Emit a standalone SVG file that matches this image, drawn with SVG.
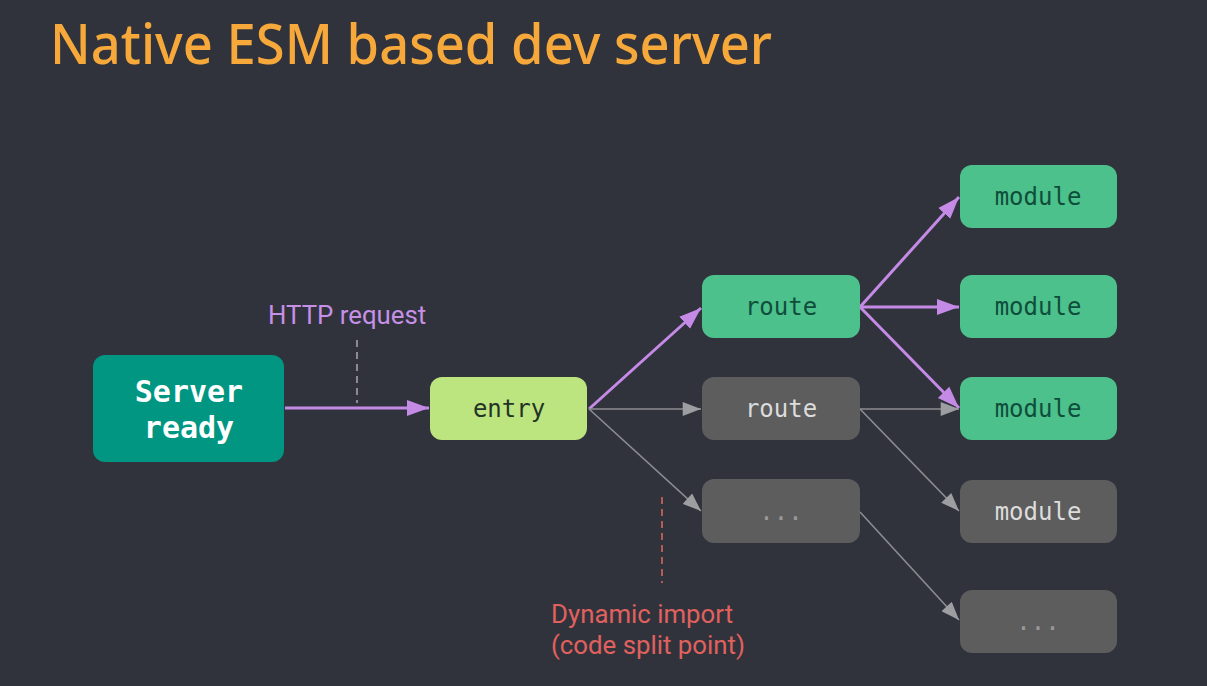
<svg xmlns="http://www.w3.org/2000/svg" width="1207" height="686" viewBox="0 0 1207 686">
<defs>
<style>
.node rect{rx:12;ry:12}
.green rect{fill:#4cc18b}
.green text{fill:#0f4d3b}
.grey rect{fill:#5d5d5e}
.grey text{fill:#dcdcdc}
.lbl{font-family:"DejaVu Sans Mono","Liberation Mono",monospace;font-size:24px;text-anchor:middle}
.dots{fill:#9a9a9a !important}
.p{stroke:#c58ae6;stroke-width:3;fill:none;marker-end:url(#ap)}
.g{stroke:#8c8d90;stroke-width:1.6;fill:none;marker-end:url(#ag)}
.note{font-family:Roboto,"Liberation Sans",sans-serif;font-size:25.8px}
</style>
<marker id="ap" markerUnits="userSpaceOnUse" markerWidth="24" markerHeight="18" refX="22" refY="8" orient="auto" viewBox="0 0 24 16">
<path d="M0,0 L22,8 L0,16 Z" fill="#c58ae6"/>
</marker>
<marker id="ag" markerUnits="userSpaceOnUse" markerWidth="20" markerHeight="14" refX="17" refY="6.5" orient="auto" viewBox="0 0 18 13">
<path d="M0,0 L17,6.5 L0,13 Z" fill="#9d9ea2"/>
</marker>
</defs>
<rect width="1207" height="686" fill="#30333c"/>
<text x="50" y="64" font-family="'Noto Sans','Open Sans',sans-serif" font-size="56" font-weight="500" fill="#f6a83a" textLength="722" lengthAdjust="spacingAndGlyphs">Native ESM based dev server</text>

<g id="connectors">
<line x1="357" y1="340" x2="357" y2="403" stroke="#a89cb6" stroke-width="1.6" stroke-dasharray="7,5"/>
<line x1="662" y1="497" x2="662" y2="583" stroke="#d9645f" stroke-width="1.6" stroke-dasharray="7,5"/>
<line class="p" x1="285" y1="408" x2="429" y2="408"/>
<line class="p" x1="589" y1="409" x2="701" y2="308"/>
<line class="g" x1="589" y1="409" x2="701" y2="409"/>
<line class="g" x1="589" y1="409" x2="701" y2="511"/>
<line class="p" x1="860" y1="307" x2="959" y2="197"/>
<line class="p" x1="860" y1="307" x2="959" y2="307"/>
<line class="p" x1="860" y1="307" x2="959" y2="408"/>
<line class="g" x1="860" y1="409" x2="959" y2="409"/>
<line class="g" x1="860" y1="409" x2="959" y2="511"/>
<line class="g" x1="860" y1="512" x2="959" y2="620"/>
</g>

<text class="note" x="268" y="324" fill="#c590e6">HTTP request</text>
<text class="note" x="551" y="623" fill="#e0615e">Dynamic import</text>
<text class="note" x="551" y="654" fill="#e0615e">(code split point)</text>

<g id="server" class="node">
<rect x="93" y="355" width="191" height="107" fill="#009682"/>
<text class="lbl" x="189" y="402" fill="#ffffff" font-weight="bold" style="font-size:30px">Server</text>
<text class="lbl" x="189" y="438" fill="#ffffff" font-weight="bold" style="font-size:30px">ready</text>
</g>
<g id="entry" class="node">
<rect x="430" y="377" width="157" height="63" fill="#bde57f"/>
<text class="lbl" x="509" y="417" fill="#233326">entry</text>
</g>
<g id="route1" class="node green">
<rect x="702" y="275" width="158" height="63"/>
<text class="lbl" x="781" y="315">route</text>
</g>
<g id="route2" class="node grey">
<rect x="702" y="377" width="158" height="63"/>
<text class="lbl" x="781" y="417">route</text>
</g>
<g id="more1" class="node grey">
<rect x="702" y="479" width="158" height="64"/>
<text class="lbl dots" x="781" y="520">...</text>
</g>
<g id="module1" class="node green">
<rect x="960" y="165" width="157" height="63"/>
<text class="lbl" x="1038" y="205">module</text>
</g>
<g id="module2" class="node green">
<rect x="960" y="275" width="157" height="63"/>
<text class="lbl" x="1038" y="315">module</text>
</g>
<g id="module3" class="node green">
<rect x="960" y="377" width="157" height="63"/>
<text class="lbl" x="1038" y="417">module</text>
</g>
<g id="module4" class="node grey">
<rect x="960" y="480" width="157" height="63"/>
<text class="lbl" x="1038" y="520">module</text>
</g>
<g id="more2" class="node grey">
<rect x="960" y="590" width="157" height="63"/>
<text class="lbl dots" x="1038" y="630">...</text>
</g>
</svg>
